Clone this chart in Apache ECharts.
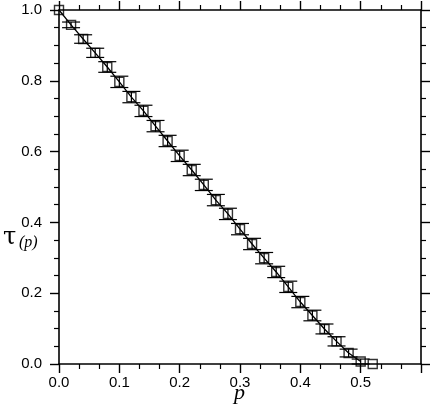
<!DOCTYPE html>
<html>
<head>
<meta charset="utf-8">
<script src="https://cdn.jsdelivr.net/npm/echarts@6/dist/echarts.min.js"></script>
<style>
    html, body { margin: 0; padding: 0; background: #fff; }
    #chart { width: 436px; height: 406px; }
</style>
</head>
<body>
<div id="chart"></div>
<script>
    var pVals = [0.00, 0.02, 0.04, 0.06, 0.08, 0.10, 0.12, 0.14, 0.16, 0.18,
        0.20, 0.22, 0.24, 0.26, 0.28, 0.30, 0.32, 0.34, 0.36, 0.38,
        0.40, 0.42, 0.44, 0.46, 0.48, 0.50, 0.52];
    var tauVals = [1.000, 0.958, 0.918, 0.879, 0.839, 0.797, 0.754, 0.715, 0.672, 0.630,
        0.588, 0.548, 0.506, 0.463, 0.424, 0.381, 0.339, 0.299, 0.260, 0.218,
        0.175, 0.137, 0.099, 0.064, 0.031, 0.007, 0.000];
    var tauErr = [0.000, 0.008, 0.012, 0.013, 0.015, 0.016, 0.016, 0.016, 0.016, 0.016,
        0.016, 0.016, 0.016, 0.016, 0.016, 0.016, 0.016, 0.016, 0.016, 0.016,
        0.016, 0.015, 0.014, 0.013, 0.011, 0.007, 0.000];
    // the curve stops at the last point before tau reaches zero
    var lineEnd = 0.50;

    var xTicks = [0.0, 0.1, 0.2, 0.3, 0.4, 0.5];

    var chart = echarts.init(document.getElementById('chart'));

    var pts = [], linePts = [], errData = [];
    for (var i = 0; i < pVals.length; i++) {
        pts.push([pVals[i], tauVals[i]]);
        if (pVals[i] <= lineEnd + 1e-9) linePts.push([pVals[i], tauVals[i]]);
        if (tauErr[i] > 0) errData.push([pVals[i], tauVals[i] - tauErr[i], tauVals[i] + tauErr[i]]);
    }

    var axisCommon = {
        type: 'value',
        axisLine: { show: true, onZero: false, lineStyle: { color: '#000', width: 1.6 } },
        axisTick: { show: true, inside: false, length: 9, lineStyle: { color: '#000', width: 1.4 } },
        minorTick: { show: true, length: 5, lineStyle: { color: '#000', width: 1.2 } },
        splitLine: { show: false },
        minorSplitLine: { show: false }
    };

    function xFmt(v) {
        for (var k = 0; k < xTicks.length; k++) {
            if (Math.abs(v - xTicks[k]) < 1e-6) return xTicks[k].toFixed(1);
        }
        return '';
    }

    var option = {
        animation: false,
        backgroundColor: '#fff',
        grid: { left: 59, right: 15, top: 10, bottom: 42 },
        xAxis: [
            Object.assign({}, axisCommon, {
                min: 0, max: 0.6, interval: 0.1, position: 'bottom',
                minorTick: Object.assign({}, axisCommon.minorTick, { splitNumber: 3 }),
                axisLabel: { margin: 11, color: '#000', fontSize: 15, fontFamily: 'Liberation Sans', formatter: xFmt }
            }),
            Object.assign({}, axisCommon, {
                min: 0, max: 0.6, interval: 0.1, position: 'top',
                minorTick: Object.assign({}, axisCommon.minorTick, { splitNumber: 3 }),
                axisLabel: { show: false }
            })
        ],
        yAxis: [
            Object.assign({}, axisCommon, {
                min: 0, max: 1.0, interval: 0.2, position: 'left',
                minorTick: Object.assign({}, axisCommon.minorTick, { splitNumber: 4 }),
                axisLabel: { margin: 17, color: '#000', fontSize: 15, fontFamily: 'Liberation Sans',
                    formatter: function (v) { return v.toFixed(1); } }
            }),
            Object.assign({}, axisCommon, {
                min: 0, max: 1.0, interval: 0.2, position: 'right',
                minorTick: Object.assign({}, axisCommon.minorTick, { splitNumber: 4 }),
                axisLabel: { show: false }
            })
        ],
        graphic: [
            { type: 'text', left: 3, top: 226,
                style: { text: 'τ', font: '24px "DejaVu Serif"', fill: '#000' } },
            { type: 'text', left: 19, top: 235,
                style: { text: '(p)', font: 'italic 16px "Liberation Serif"', fill: '#000' } },
            { type: 'text', left: 234, top: 382,
                style: { text: 'p', font: 'italic 22px "Liberation Serif"', fill: '#000' } }
        ],
        series: [
            {
                type: 'custom',
                xAxisIndex: 0, yAxisIndex: 0,
                data: errData,
                z: 2,
                renderItem: function (params, api) {
                    var lo = api.coord([api.value(0), api.value(1)]);
                    var hi = api.coord([api.value(0), api.value(2)]);
                    var hw = 9;
                    var st = { stroke: '#000', lineWidth: 1.2 };
                    return {
                        type: 'group',
                        children: [
                            { type: 'line', shape: { x1: lo[0], y1: lo[1], x2: hi[0], y2: hi[1] }, style: st },
                            { type: 'line', shape: { x1: lo[0] - hw, y1: lo[1], x2: lo[0] + hw, y2: lo[1] }, style: st },
                            { type: 'line', shape: { x1: hi[0] - hw, y1: hi[1], x2: hi[0] + hw, y2: hi[1] }, style: st }
                        ]
                    };
                }
            },
            {
                type: 'line',
                data: linePts,
                showSymbol: false,
                symbol: 'none',
                z: 3,
                lineStyle: { color: '#000', width: 1.3 }
            },
            {
                type: 'scatter',
                data: pts,
                symbol: 'rect',
                symbolSize: 9,
                z: 4,
                itemStyle: { color: 'rgba(255,255,255,0)', borderColor: '#000', borderWidth: 1.4 }
            }
        ]
    };

    chart.setOption(option);
</script>
</body>
</html>
